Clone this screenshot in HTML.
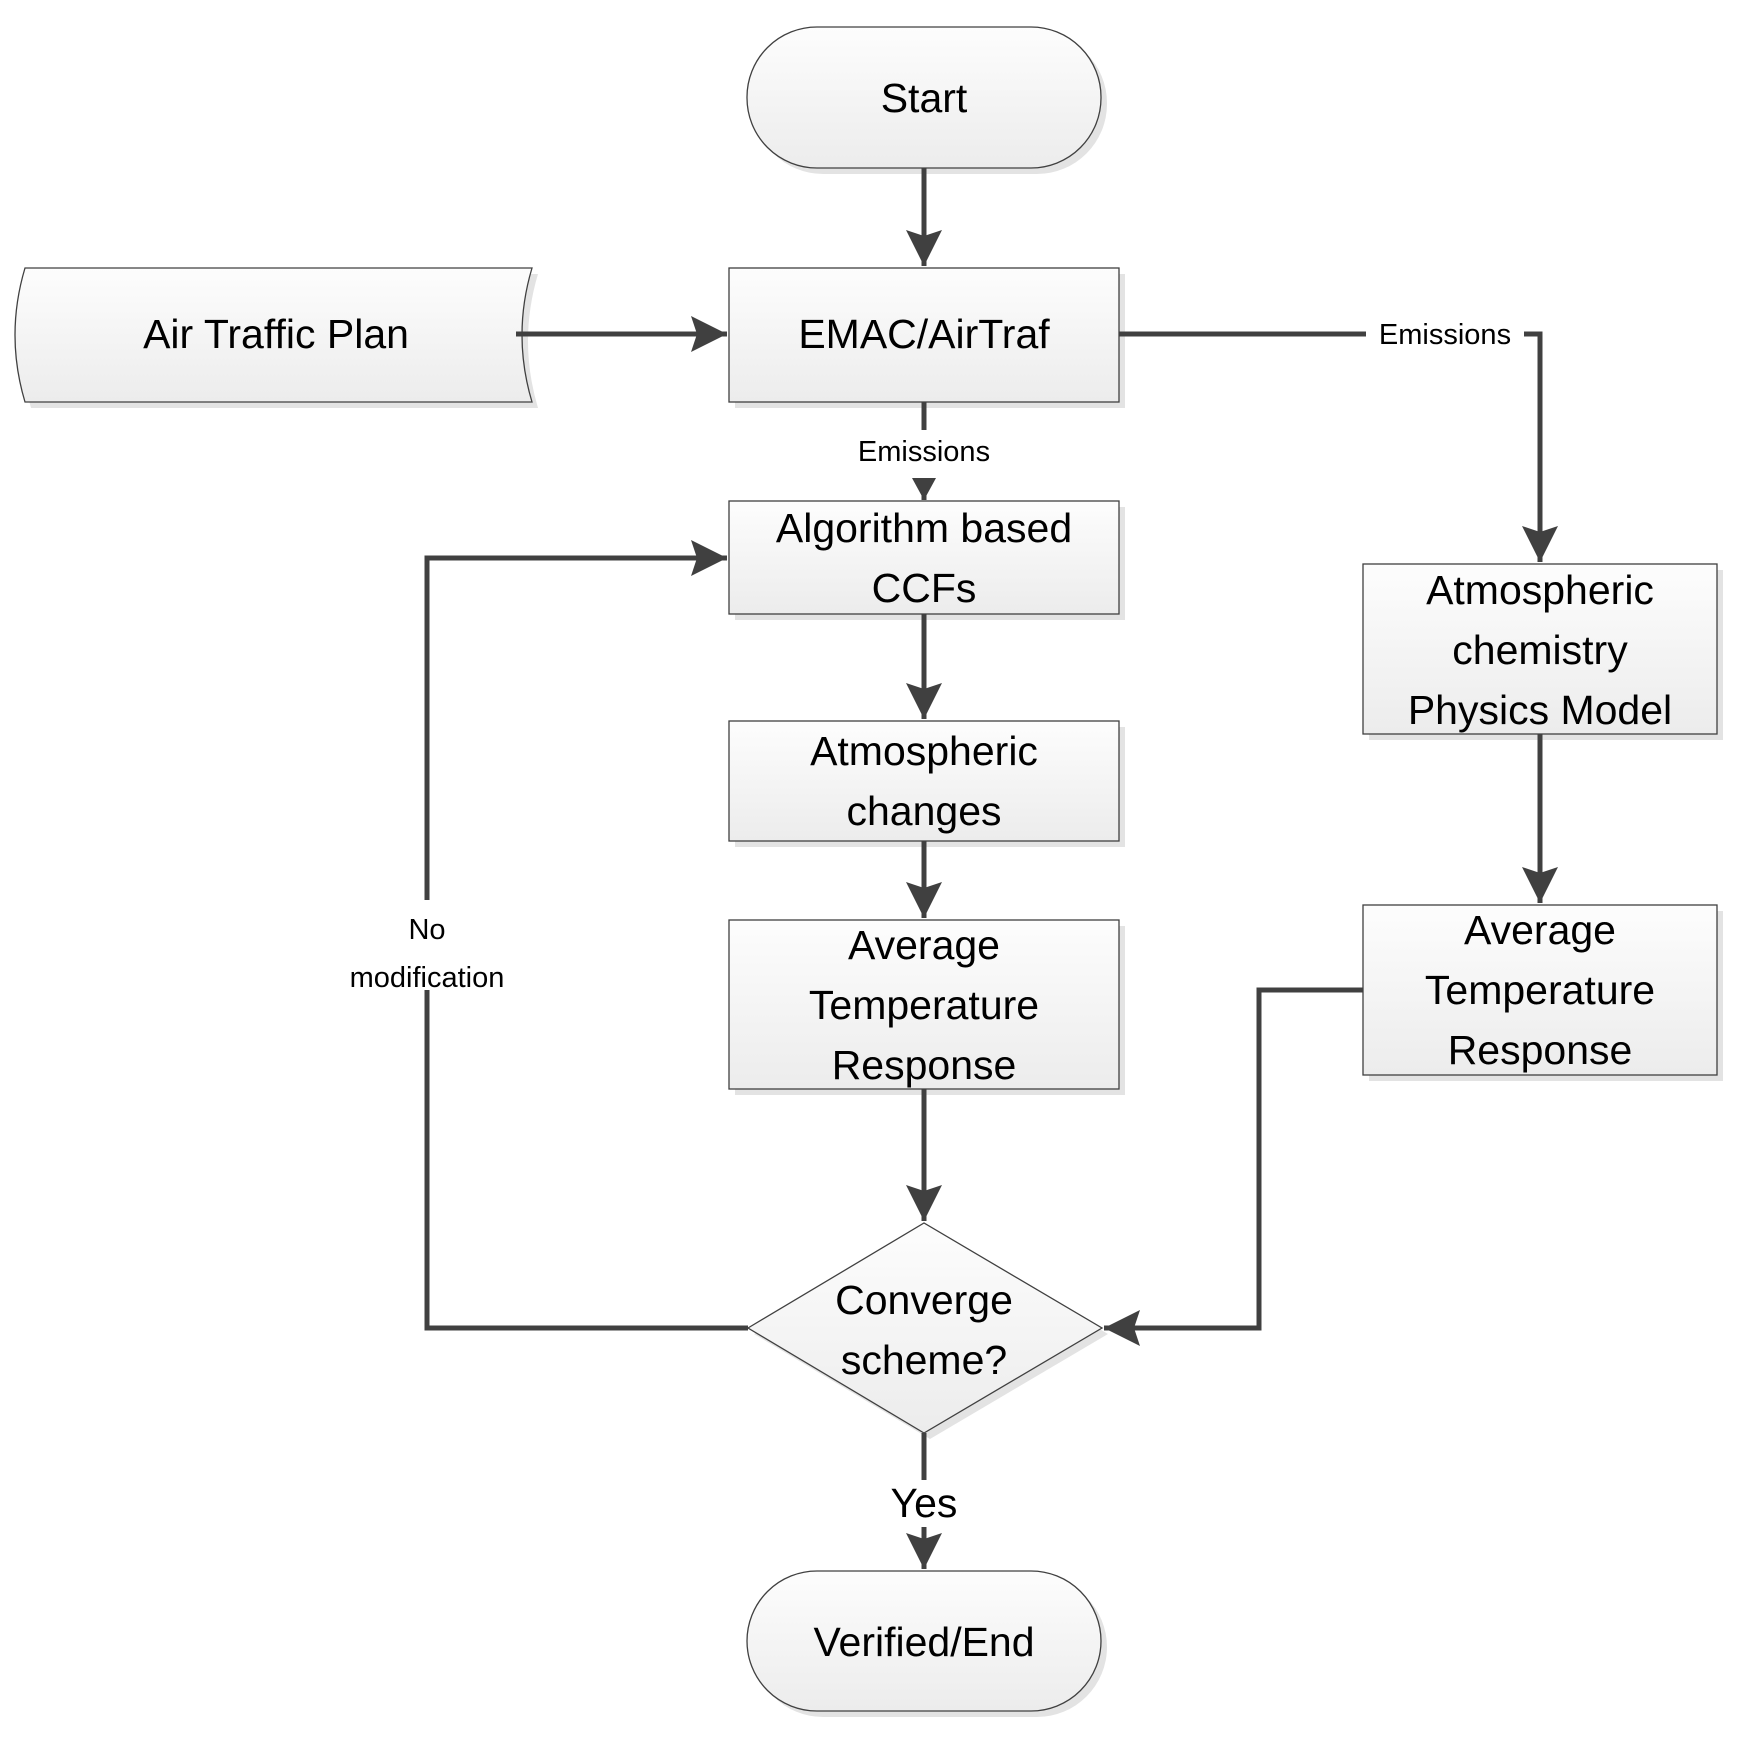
<!DOCTYPE html>
<html><head><meta charset="utf-8"><style>
html,body{margin:0;padding:0;background:#fff}
svg{display:block}
text{font-family:"Liberation Sans",sans-serif;fill:#000;text-anchor:middle}
.b{font-size:41px}
.s{font-size:29px}
</style></head><body>
<svg width="1755" height="1737" viewBox="0 0 1755 1737" xmlns="http://www.w3.org/2000/svg">
<defs>
<linearGradient id="g" x1="0" y1="0" x2="0" y2="1"><stop offset="0" stop-color="#fdfdfd"/><stop offset="1" stop-color="#ececec"/></linearGradient>
<marker id="a" markerWidth="40" markerHeight="40" refX="36" refY="20" orient="auto" markerUnits="userSpaceOnUse" viewBox="0 0 40 40"><path d="M0,2 L36,20 L0,38 L6,20z" fill="#404040"/></marker>
<marker id="s" markerWidth="24" markerHeight="24" refX="22" refY="12" orient="auto" markerUnits="userSpaceOnUse" viewBox="0 0 24 24"><path d="M0,0 L22,12 L0,24z" fill="#404040"/></marker>
</defs>
<g fill="#e3e3e3">
<rect x="753" y="33" width="354" height="141" rx="70"/>
<rect x="735" y="274" width="390" height="134"/>
<path d="M31,274 H538 Q518,341 538,408 H31 Q11,341 31,274Z"/>
<rect x="735" y="507" width="390" height="113"/>
<rect x="735" y="727" width="390" height="120"/>
<rect x="735" y="926" width="390" height="169"/>
<rect x="1369" y="570" width="354" height="170"/>
<rect x="1369" y="911" width="354" height="170"/>
<path d="M754,1334 L930,1229 L1108,1334 L930,1439Z"/>
<rect x="753" y="1577" width="354" height="140" rx="70"/>
</g>
<g fill="url(#g)" stroke="#404040" stroke-width="1.3">
<rect x="747" y="27" width="354" height="141" rx="70"/>
<rect x="729" y="268" width="390" height="134"/>
<path d="M25,268 H532 Q512,335 532,402 H25 Q5,335 25,268Z"/>
<rect x="729" y="501" width="390" height="113"/>
<rect x="729" y="721" width="390" height="120"/>
<rect x="729" y="920" width="390" height="169"/>
<rect x="1363" y="564" width="354" height="170"/>
<rect x="1363" y="905" width="354" height="170"/>
<path d="M748,1328 L924,1223 L1102,1328 L924,1433Z"/>
<rect x="747" y="1571" width="354" height="140" rx="70"/>
</g>
<g stroke="#404040" stroke-width="5" fill="none">
<line x1="924" y1="168" x2="924" y2="266" marker-end="url(#a)"/>
<line x1="516" y1="334" x2="727" y2="334" marker-end="url(#a)"/>
<line x1="924" y1="402" x2="924" y2="430"/>
<line x1="924" y1="478" x2="924" y2="500" marker-end="url(#s)"/>
<line x1="924" y1="614" x2="924" y2="719" marker-end="url(#a)"/>
<line x1="924" y1="841" x2="924" y2="918" marker-end="url(#a)"/>
<line x1="924" y1="1089" x2="924" y2="1221" marker-end="url(#a)"/>
<line x1="924" y1="1433" x2="924" y2="1480"/>
<line x1="924" y1="1527" x2="924" y2="1569" marker-end="url(#a)"/>
<polyline points="1119,334 1540,334 1540,562" marker-end="url(#a)"/>
<line x1="1540" y1="734" x2="1540" y2="903" marker-end="url(#a)"/>
<polyline points="1363,990 1259,990 1259,1328 1104,1328" marker-end="url(#a)"/>
<polyline points="748,1328 427,1328 427,990"/>
<polyline points="427,900 427,558 727,558" marker-end="url(#a)"/>
</g>
<rect x="1366" y="316" width="158" height="36" fill="#fff"/>
<text class="s" x="1445" y="344">Emissions</text>
<text class="s" x="924" y="461">Emissions</text>
<text class="s" x="427" y="939">No</text>
<text class="s" x="427" y="987">modification</text>
<text class="b" x="924" y="1517">Yes</text>
<text class="b" x="924" y="112">Start</text>
<text class="b" x="924" y="348">EMAC/AirTraf</text>
<text class="b" x="276" y="348">Air Traffic Plan</text>
<text class="b" x="924" y="542">Algorithm based</text>
<text class="b" x="924" y="602">CCFs</text>
<text class="b" x="924" y="765">Atmospheric</text>
<text class="b" x="924" y="825">changes</text>
<text class="b" x="924" y="959">Average</text>
<text class="b" x="924" y="1019">Temperature</text>
<text class="b" x="924" y="1079">Response</text>
<text class="b" x="1540" y="604">Atmospheric</text>
<text class="b" x="1540" y="664">chemistry</text>
<text class="b" x="1540" y="724">Physics Model</text>
<text class="b" x="1540" y="944">Average</text>
<text class="b" x="1540" y="1004">Temperature</text>
<text class="b" x="1540" y="1064">Response</text>
<text class="b" x="924" y="1314">Converge</text>
<text class="b" x="924" y="1374">scheme?</text>
<text class="b" x="924" y="1656">Verified/End</text>
</svg>
</body></html>
